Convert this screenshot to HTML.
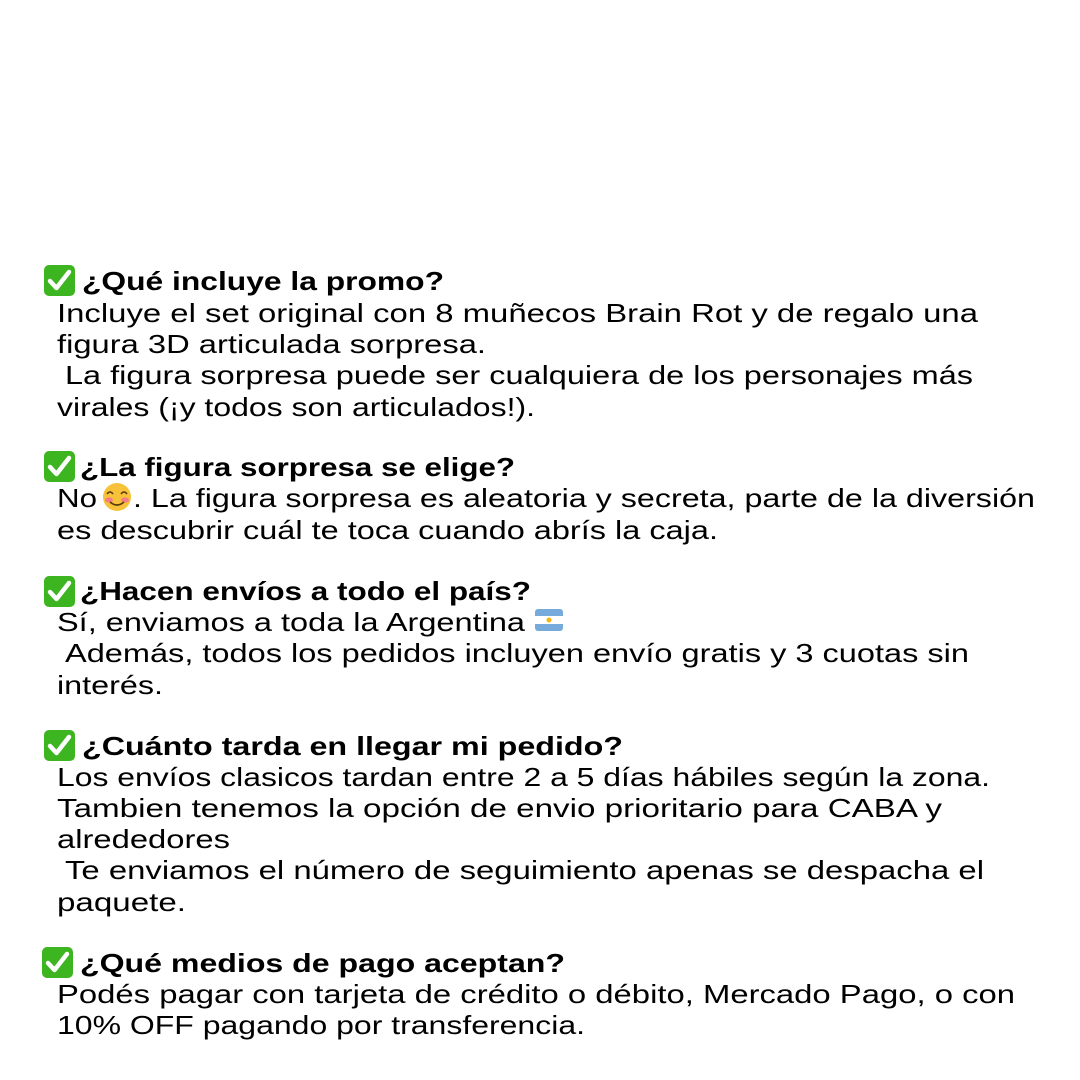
<!DOCTYPE html>
<html><head><meta charset="utf-8"><style>
html,body{margin:0;padding:0;background:#fff;width:1080px;height:1080px;overflow:hidden}
svg{display:block}
text{font-family:"Liberation Sans",sans-serif;font-size:26px;fill:#000}
.h{font-weight:bold;font-size:26px}
</style></head><body>
<svg width="1080" height="1080" viewBox="0 0 1080 1080" xmlns="http://www.w3.org/2000/svg">
<defs>
<g id="chk"><rect x="0" y="0" width="31" height="31" rx="5" fill="#3cb521"/><path d="M6 16 L12.5 23 L25 7" stroke="#fff" stroke-width="4.5" fill="none" stroke-linecap="round" stroke-linejoin="round"/></g>
</defs>
<use href="#chk" x="44" y="265"/>
<text class="h" x="82" y="290" textLength="362" lengthAdjust="spacingAndGlyphs">¿Qué incluye la promo?</text>
<text x="57" y="322" textLength="921" lengthAdjust="spacingAndGlyphs">Incluye el set original con 8 muñecos Brain Rot y de regalo una</text>
<text x="57" y="353" textLength="429" lengthAdjust="spacingAndGlyphs">figura 3D articulada sorpresa.</text>
<text x="65" y="384" textLength="908" lengthAdjust="spacingAndGlyphs">La figura sorpresa puede ser cualquiera de los personajes más</text>
<text x="57" y="416" textLength="478" lengthAdjust="spacingAndGlyphs">virales (¡y todos son articulados!).</text>

<use href="#chk" x="44" y="451"/>
<text class="h" x="80" y="476" textLength="435" lengthAdjust="spacingAndGlyphs">¿La figura sorpresa se elige?</text>
<text x="57" y="507" textLength="40" lengthAdjust="spacingAndGlyphs">No</text>
<circle cx="117" cy="497" r="14" fill="#f7c23a"/>
<ellipse cx="109" cy="500" rx="4" ry="2.5" fill="#f27c8a"/><ellipse cx="125" cy="500" rx="4" ry="2.5" fill="#f27c8a"/>
<path d="M107 494 q3 -4 6 0 M121 494 q3 -4 6 0 M110 502 q7 6 14 0" stroke="#5a3a10" stroke-width="1.6" fill="none"/>
<text x="133" y="507" textLength="902" lengthAdjust="spacingAndGlyphs">. La figura sorpresa es aleatoria y secreta, parte de la diversión</text>
<text x="57" y="539" textLength="661" lengthAdjust="spacingAndGlyphs">es descubrir cuál te toca cuando abrís la caja.</text>

<use href="#chk" x="44" y="576"/>
<text class="h" x="80" y="600" textLength="451" lengthAdjust="spacingAndGlyphs">¿Hacen envíos a todo el país?</text>
<text x="57" y="631" textLength="468" lengthAdjust="spacingAndGlyphs">Sí, enviamos a toda la Argentina</text>
<rect x="535" y="609" width="28" height="22" rx="3" fill="#75aadb"/>
<rect x="535" y="616" width="28" height="8" fill="#fff"/>
<circle cx="549" cy="620" r="2.5" fill="#f6b40e"/>
<text x="65" y="662" textLength="904" lengthAdjust="spacingAndGlyphs">Además, todos los pedidos incluyen envío gratis y 3 cuotas sin</text>
<text x="57" y="694" textLength="106" lengthAdjust="spacingAndGlyphs">interés.</text>

<use href="#chk" x="44" y="730"/>
<text class="h" x="82" y="755" textLength="541" lengthAdjust="spacingAndGlyphs">¿Cuánto tarda en llegar mi pedido?</text>
<text x="57" y="786" textLength="933" lengthAdjust="spacingAndGlyphs">Los envíos clasicos tardan entre 2 a 5 días hábiles según la zona.</text>
<text x="57" y="817" textLength="885" lengthAdjust="spacingAndGlyphs">Tambien tenemos la opción de envio prioritario para CABA y</text>
<text x="57" y="848" textLength="173" lengthAdjust="spacingAndGlyphs">alrededores</text>
<text x="65" y="879" textLength="919" lengthAdjust="spacingAndGlyphs">Te enviamos el número de seguimiento apenas se despacha el</text>
<text x="57" y="911" textLength="129" lengthAdjust="spacingAndGlyphs">paquete.</text>

<use href="#chk" x="42" y="947"/>
<text class="h" x="80" y="972" textLength="485" lengthAdjust="spacingAndGlyphs">¿Qué medios de pago aceptan?</text>
<text x="57" y="1003" textLength="958" lengthAdjust="spacingAndGlyphs">Podés pagar con tarjeta de crédito o débito, Mercado Pago, o con</text>
<text x="57" y="1034" textLength="528" lengthAdjust="spacingAndGlyphs">10% OFF pagando por transferencia.</text>
</svg>
</body></html>
